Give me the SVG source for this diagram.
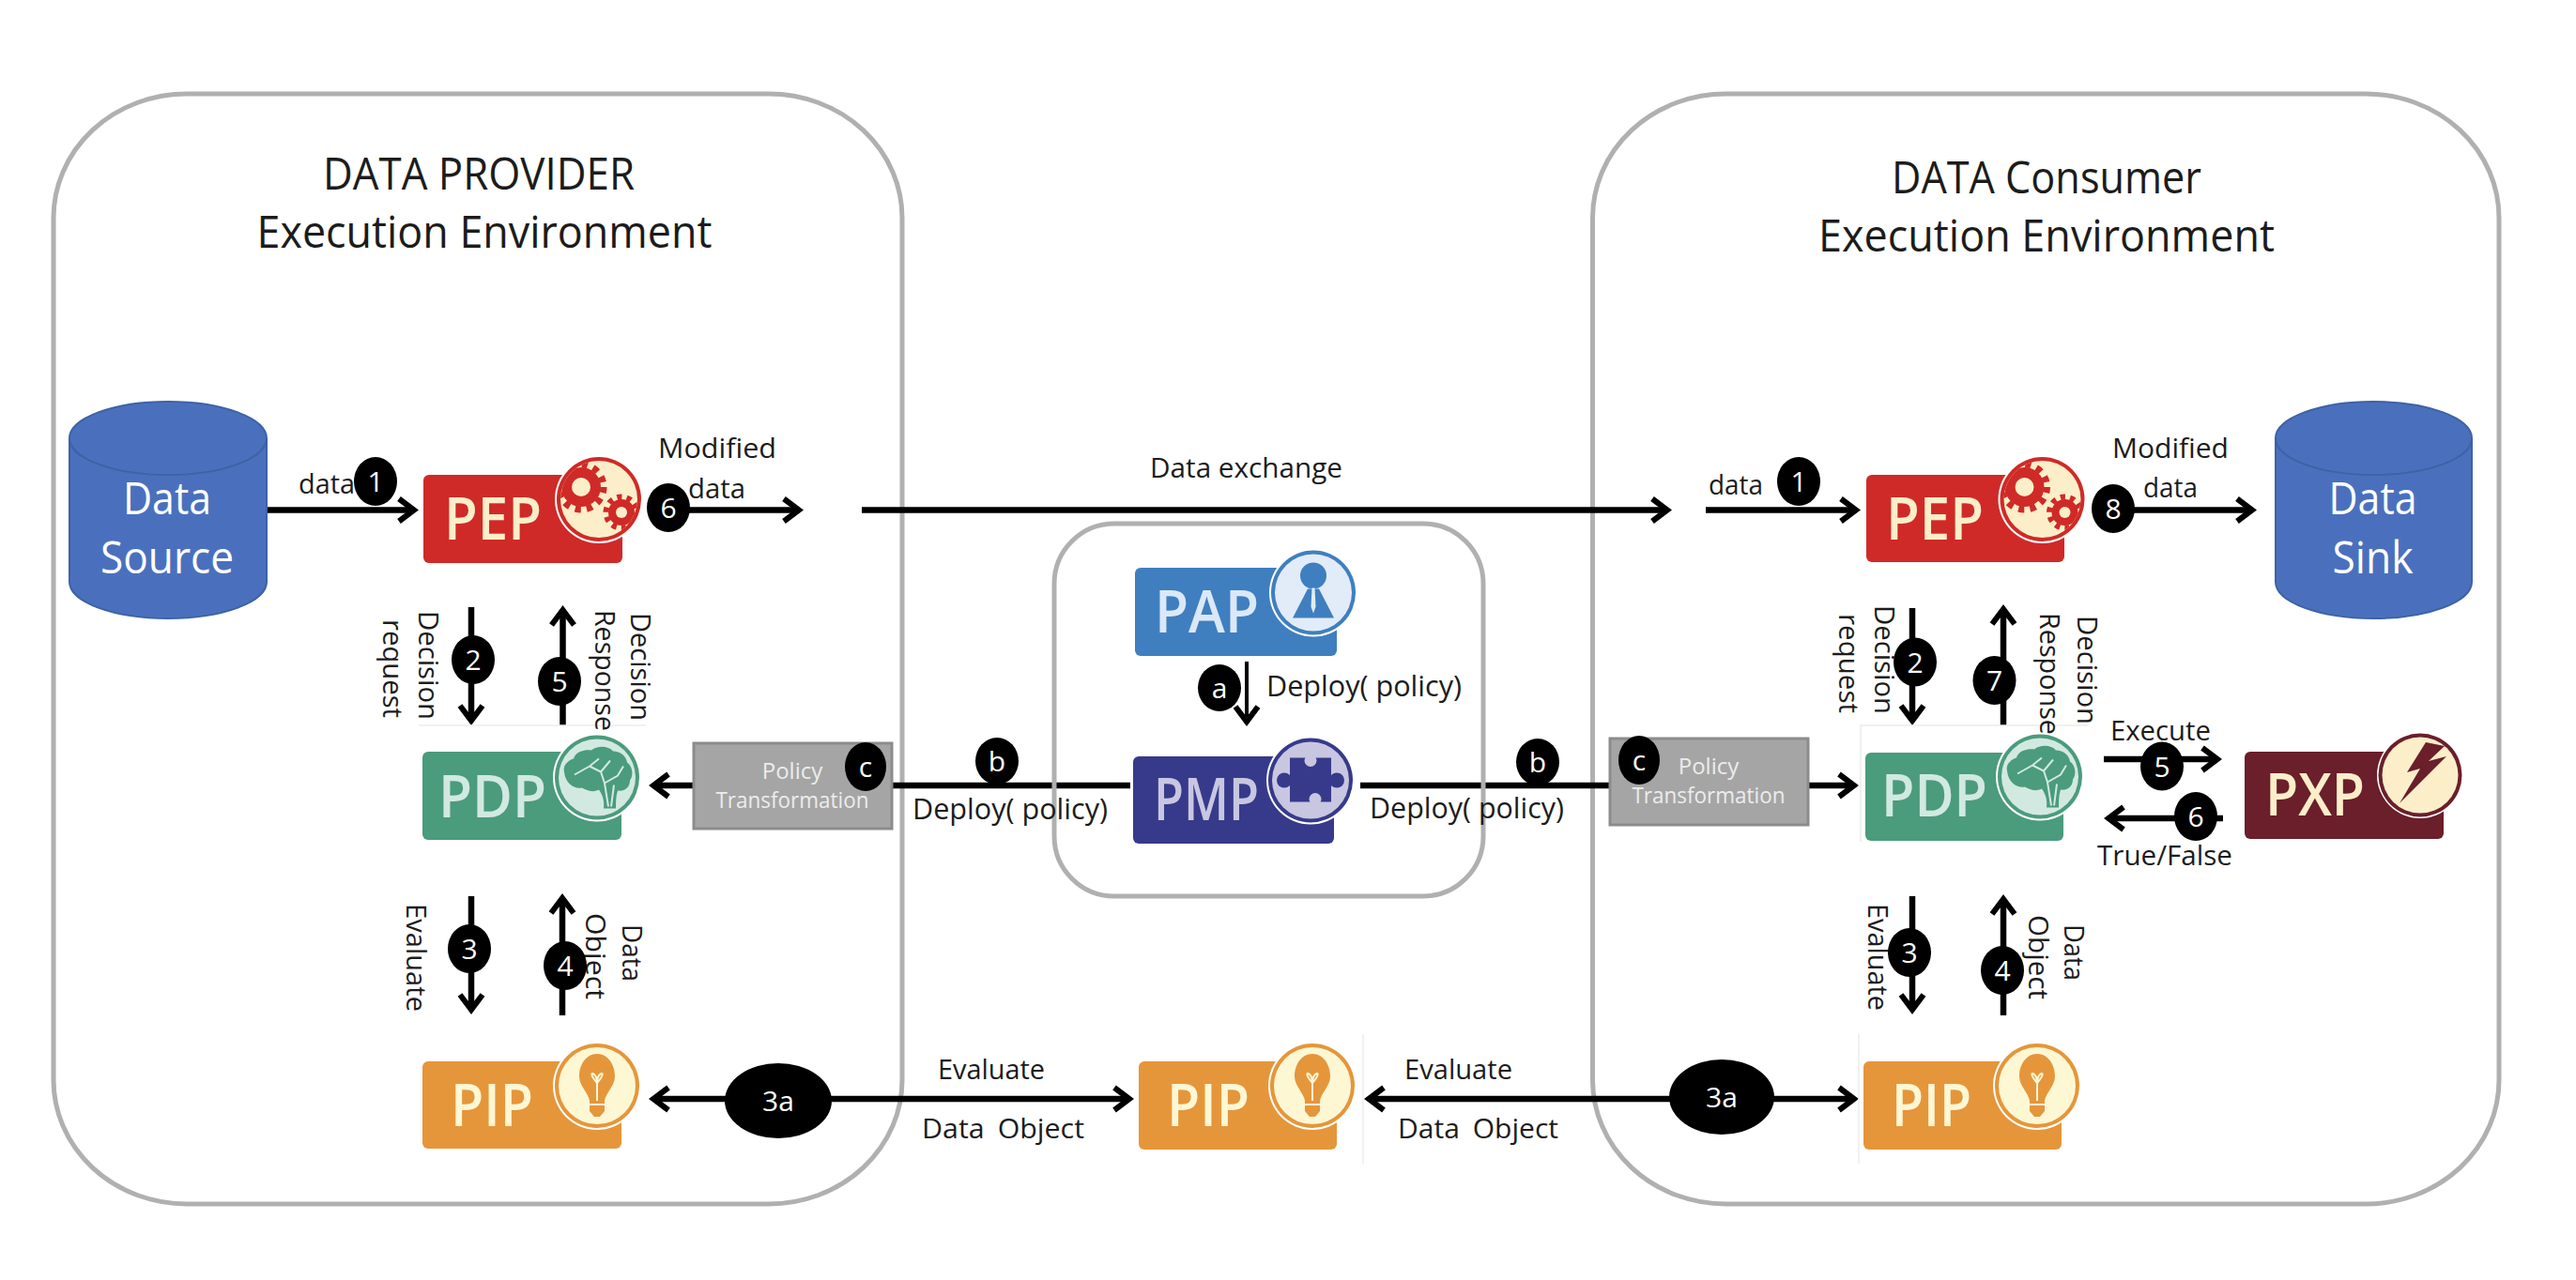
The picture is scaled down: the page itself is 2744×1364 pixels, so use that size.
<svg xmlns="http://www.w3.org/2000/svg" xmlns:xlink="http://www.w3.org/1999/xlink" width="2744" height="1364" viewBox="0 0 2744 1364">
<style>
text{font-family:"Open Sans","Liberation Sans",sans-serif;fill:#1c1c1c}
.lb{font-size:30px}
.dp{font-size:31px}
.tt{font-size:47px;text-anchor:middle}
.ds{font-size:47px;text-anchor:middle;fill:#fff}
.nm{font-size:64px;font-weight:600}
.pt{font-size:24px;text-anchor:middle;fill:#ececec}
.bt{font-size:30px;text-anchor:middle;fill:#fff}
.bd{fill:#000}
.panel{fill:none;stroke:#b0b0b0;stroke-width:5}
.ln{fill:none;stroke:#000;stroke-width:6.5;marker-end:url(#ah)}
.pl{fill:none;stroke:#000;stroke-width:6.5}
.cyl{fill:#4a70bd;stroke:#3e62a6;stroke-width:2}
.pol{fill:#a5a5a5;stroke:#8c8c8c;stroke-width:3}
.edge{fill:none;stroke:#ececec;stroke-width:1.5}
</style>
<defs>
<marker id="ah" markerUnits="userSpaceOnUse" markerWidth="50" markerHeight="50" refX="25" refY="25" orient="auto-start-reverse" viewBox="0 0 50 50"><path d="M9,13 L25,25 L9,37" fill="none" stroke="#000" stroke-width="6"/></marker>
<clipPath id="dc"><circle r="41"/></clipPath>
<g id="gears" clip-path="url(#dc)" fill="#cf2a27">
<circle cx="-19" cy="-13" r="21"/>
<circle cx="-19" cy="-13" r="24" fill="none" stroke="#cf2a27" stroke-width="7" stroke-dasharray="6.28 6.28"/>
<circle cx="-19" cy="-13" r="10" fill="#fbeec8"/>
<circle cx="24" cy="14" r="14"/>
<circle cx="24" cy="14" r="16.5" fill="none" stroke="#cf2a27" stroke-width="6" stroke-dasharray="5.18 5.18"/>
<circle cx="24" cy="14" r="6" fill="#fbeec8"/>
</g>
<g id="brain">
<path fill="#4b9b7d" d="M-35,-6 C-37,-14 -29,-19 -25,-20 C-23,-28 -12,-30 -6,-29 C0,-34 12,-34 17,-28 C25,-28 31,-23 32,-16 C38,-12 39,-2 35,3 C35,11 29,15 22,14 C20,20 20,26 20,33 L7,33 C8,25 6,19 2,13 C-6,17 -12,13 -16,11 C-24,13 -34,6 -35,-6Z"/>
<path fill="none" stroke="#d1e9e1" stroke-width="2" d="M-24,-3 L-8,-12 L2,-20 M-8,-12 L4,-6 L8,6 L12,31 M4,-6 L14,-18 M8,6 L22,-2 L28,-12 M15,31 L18,8"/>
</g>
<g id="bulb">
<path fill="#e5963a" d="M0,-34 C12,-34 19,-22 19,-10 C19,0 9,8 8,16 L8,27 L3,33 L-3,33 L-8,27 L-8,16 C-9,8 -19,0 -19,-10 C-19,-22 -12,-34 0,-34Z"/>
<path fill="none" stroke="#fdf7d4" stroke-width="2" d="M0,16 L0,-3 C-8,-12 -6,-15 -3,-12 C-1,-10 0,-6 0,-3 C0,-6 1,-10 3,-12 C6,-15 8,-12 0,-3 M-8,20 L8,20"/>
</g>
</defs>

<rect width="2744" height="1364" fill="#fff"/>

<g id="panels-outer">
<rect class="panel" x="57" y="100" width="904" height="1183" rx="142" ry="132"/>
<rect class="panel" x="1696.5" y="100" width="965.5" height="1183" rx="142" ry="132"/>
</g>

<g id="connectors">
<path class="ln" d="M284,543.5H441"/>
<path class="ln" d="M712,543.5H851"/>
<path class="ln" d="M918,543.5H1776"/>
<path class="ln" d="M1817,543.5H1977"/>
<path class="ln" d="M2251,543.5H2399"/>
<path class="ln" d="M502,647V768"/>
<path class="ln" d="M599.5,773V650"/>
<path class="ln" d="M502,955V1076"/>
<path class="ln" d="M599,1082V957"/>
<path class="ln" style="stroke-width:4" d="M1328,705V769"/>
<path class="ln" d="M739,837H696"/>
<path class="pl" d="M950,837H1204"/>
<path class="pl" d="M1449,837H1715"/>
<path class="ln" d="M1926,837H1975"/>
<path class="ln" d="M2037,648V768"/>
<path class="ln" d="M2134,773V649"/>
<path class="ln" d="M2037,955V1076"/>
<path class="ln" d="M2134,1082V958"/>
<path class="ln" d="M2241,809H2362"/>
<path class="ln" d="M2368,872H2246"/>
<path class="ln" style="marker-start:url(#ah)" d="M696,1171H1203"/>
<path class="ln" style="marker-start:url(#ah)" d="M1458,1171H1975"/>
</g>

<g id="panel-center"><rect class="panel" x="1123" y="558" width="457" height="397" rx="64" ry="64"/></g>

<g id="edges">
<path class="edge" d="M446,773H688"/>
<path class="edge" d="M2224,773H1982V897"/>
<path class="edge" d="M1452,1102V1240"/>
<path class="edge" d="M1980,1102V1240"/>
</g>

<g id="titles">
<text class="tt" x="510" y="202" textLength="332" lengthAdjust="spacingAndGlyphs">DATA PROVIDER</text>
<text class="tt" x="516" y="264" textLength="485" lengthAdjust="spacingAndGlyphs">Execution Environment</text>
<text class="tt" x="2180" y="206" textLength="330" lengthAdjust="spacingAndGlyphs">DATA Consumer</text>
<text class="tt" x="2180" y="268" textLength="486" lengthAdjust="spacingAndGlyphs">Execution Environment</text>
</g>

<g id="labels">
<text class="lb" x="318" y="526" textLength="60" lengthAdjust="spacingAndGlyphs">data</text>
<text class="lb" x="701" y="488" textLength="126" lengthAdjust="spacingAndGlyphs">Modified</text>
<text class="lb" x="733" y="531" textLength="61" lengthAdjust="spacingAndGlyphs">data</text>
<text class="lb" x="1225" y="509" textLength="205" lengthAdjust="spacingAndGlyphs">Data exchange</text>
<text class="lb" x="1820" y="527" textLength="58" lengthAdjust="spacingAndGlyphs">data</text>
<text class="lb" x="2250" y="488" textLength="124" lengthAdjust="spacingAndGlyphs">Modified</text>
<text class="lb" x="2283" y="530" textLength="58" lengthAdjust="spacingAndGlyphs">data</text>
<text class="lb" transform="translate(446,651) rotate(90)" textLength="116" lengthAdjust="spacingAndGlyphs">Decision</text>
<text class="lb" transform="translate(408,660) rotate(90)" textLength="105" lengthAdjust="spacingAndGlyphs">request</text>
<text class="lb" transform="translate(672,653) rotate(90)" textLength="115" lengthAdjust="spacingAndGlyphs">Decision</text>
<text class="lb" transform="translate(634,650) rotate(90)" textLength="129" lengthAdjust="spacingAndGlyphs">Response</text>
<text class="lb" transform="translate(433,963) rotate(90)" textLength="115" lengthAdjust="spacingAndGlyphs">Evaluate</text>
<text class="lb" transform="translate(624,973) rotate(90)" textLength="92" lengthAdjust="spacingAndGlyphs">Object</text>
<text class="lb" transform="translate(663,985) rotate(90)" textLength="61" lengthAdjust="spacingAndGlyphs">Data</text>
<text class="lb" transform="translate(1997,645) rotate(90)" textLength="116" lengthAdjust="spacingAndGlyphs">Decision</text>
<text class="lb" transform="translate(1959,654) rotate(90)" textLength="106" lengthAdjust="spacingAndGlyphs">request</text>
<text class="lb" transform="translate(2213,656) rotate(90)" textLength="116" lengthAdjust="spacingAndGlyphs">Decision</text>
<text class="lb" transform="translate(2173,653) rotate(90)" textLength="130" lengthAdjust="spacingAndGlyphs">Response</text>
<text class="lb" transform="translate(1990,963) rotate(90)" textLength="114" lengthAdjust="spacingAndGlyphs">Evaluate</text>
<text class="lb" transform="translate(2161,975) rotate(90)" textLength="90" lengthAdjust="spacingAndGlyphs">Object</text>
<text class="lb" transform="translate(2199,985) rotate(90)" textLength="60" lengthAdjust="spacingAndGlyphs">Data</text>
<text class="dp" x="1349" y="742" textLength="208" lengthAdjust="spacingAndGlyphs">Deploy( policy)</text>
<text class="dp" x="972" y="873" textLength="208" lengthAdjust="spacingAndGlyphs">Deploy( policy)</text>
<text class="dp" x="1459" y="872" textLength="207" lengthAdjust="spacingAndGlyphs">Deploy( policy)</text>
<text class="lb" x="2248" y="789" textLength="107" lengthAdjust="spacingAndGlyphs">Execute</text>
<text class="lb" x="2234" y="922" textLength="144" lengthAdjust="spacingAndGlyphs">True/False</text>
<text class="lb" x="999" y="1150" textLength="114" lengthAdjust="spacingAndGlyphs">Evaluate</text>
<text class="lb" x="982" y="1213" textLength="173" lengthAdjust="spacingAndGlyphs" word-spacing="6">Data Object</text>
<text class="lb" x="1496" y="1150" textLength="115" lengthAdjust="spacingAndGlyphs">Evaluate</text>
<text class="lb" x="1489" y="1213" textLength="171" lengthAdjust="spacingAndGlyphs" word-spacing="6">Data Object</text>
</g>

<g id="data-source">
<path class="cyl" d="M74,467V620A105,39 0 0 0 284,620V467A105,39 0 0 0 74,467Z"/>
<path class="cyl" style="fill:none" d="M74,467A105,39 0 0 0 284,467"/>
<text class="ds" x="178" y="548" textLength="94" lengthAdjust="spacingAndGlyphs">Data</text>
<text class="ds" x="178" y="611" textLength="142" lengthAdjust="spacingAndGlyphs">Source</text>
</g>
<g id="data-sink">
<path class="cyl" d="M2424,467V620A104.5,39 0 0 0 2633,620V467A104.5,39 0 0 0 2424,467Z"/>
<path class="cyl" style="fill:none" d="M2424,467A104.5,39 0 0 0 2633,467"/>
<text class="ds" x="2527.5" y="548" textLength="94" lengthAdjust="spacingAndGlyphs">Data</text>
<text class="ds" x="2527.5" y="611" textLength="86" lengthAdjust="spacingAndGlyphs">Sink</text>
</g>

<g id="pep-left">
<rect x="451" y="506" width="212" height="94" rx="6" fill="#cf2a27"/>
<text class="nm" x="473" y="575" textLength="104" lengthAdjust="spacingAndGlyphs" style="fill:#fbeec8">PEP</text>
<g transform="translate(638,532)"><circle r="47" fill="#fff"/><circle r="45" fill="#cf2a27"/><circle r="41" fill="#fbeec8"/><use xlink:href="#gears" href="#gears"/></g>
</g>
<g id="pep-right">
<rect x="1988" y="506" width="211" height="93" rx="6" fill="#cf2a27"/>
<text class="nm" x="2009" y="575" textLength="104" lengthAdjust="spacingAndGlyphs" style="fill:#fbeec8">PEP</text>
<g transform="translate(2175.5,532)"><circle r="47" fill="#fff"/><circle r="45" fill="#cf2a27"/><circle r="41" fill="#fbeec8"/><use xlink:href="#gears" href="#gears"/></g>
</g>
<g id="pdp-left">
<rect x="450" y="801" width="212" height="94" rx="6" fill="#4b9b7d"/>
<text class="nm" x="467" y="871" textLength="115" lengthAdjust="spacingAndGlyphs" style="fill:#d1e9e1">PDP</text>
<g transform="translate(636,828.5)"><circle r="47" fill="#fff"/><circle r="45" fill="#4b9b7d"/><circle r="41" fill="#d1e9e1"/><use xlink:href="#brain" href="#brain"/></g>
</g>
<g id="pdp-right">
<rect x="1987" y="802" width="211" height="94" rx="6" fill="#4b9b7d"/>
<text class="nm" x="2004" y="870" textLength="113" lengthAdjust="spacingAndGlyphs" style="fill:#d1e9e1">PDP</text>
<g transform="translate(2173,827.5)"><circle r="47" fill="#fff"/><circle r="45" fill="#4b9b7d"/><circle r="41" fill="#d1e9e1"/><use xlink:href="#brain" href="#brain"/></g>
</g>
<g id="pip-left">
<rect x="450" y="1131" width="212" height="93" rx="6" fill="#e5963a"/>
<text class="nm" x="480" y="1200" textLength="88" lengthAdjust="spacingAndGlyphs" style="fill:#fdf7d4">PIP</text>
<g transform="translate(636,1157)"><circle r="47" fill="#fff"/><circle r="45" fill="#e5963a"/><circle r="41" fill="#fdf7d4"/><use xlink:href="#bulb" href="#bulb"/></g>
</g>
<g id="pip-center">
<rect x="1213" y="1131" width="211" height="94" rx="6" fill="#e5963a"/>
<text class="nm" x="1243" y="1200" textLength="88" lengthAdjust="spacingAndGlyphs" style="fill:#fdf7d4">PIP</text>
<g transform="translate(1398,1157)"><circle r="47" fill="#fff"/><circle r="45" fill="#e5963a"/><circle r="41" fill="#fdf7d4"/><use xlink:href="#bulb" href="#bulb"/></g>
</g>
<g id="pip-right">
<rect x="1985" y="1131" width="211" height="94" rx="6" fill="#e5963a"/>
<text class="nm" x="2015" y="1200" textLength="85" lengthAdjust="spacingAndGlyphs" style="fill:#fdf7d4">PIP</text>
<g transform="translate(2170,1157)"><circle r="47" fill="#fff"/><circle r="45" fill="#e5963a"/><circle r="41" fill="#fdf7d4"/><use xlink:href="#bulb" href="#bulb"/></g>
</g>
<g id="pap">
<rect x="1209" y="605" width="215" height="94" rx="6" fill="#3f7fbf"/>
<text class="nm" x="1230" y="674" textLength="111" lengthAdjust="spacingAndGlyphs" style="fill:#dbe8f7">PAP</text>
<g transform="translate(1399,631.5)"><circle r="47" fill="#fff"/><circle r="45" fill="#3f7fbf"/><circle r="41" fill="#e1ecf8"/>
<circle cy="-18" r="14" fill="#3f7fbf"/><path d="M-6,-4H6L22,27H-22Z" fill="#3f7fbf"/><path d="M-1.5,-5H1.5L2.5,15L0,22L-2.5,15Z" fill="#e1ecf8"/></g>
</g>
<g id="pmp">
<rect x="1207" y="806" width="214" height="93" rx="6" fill="#373a8a"/>
<text class="nm" x="1229" y="874" textLength="112" lengthAdjust="spacingAndGlyphs" style="fill:#c9c6e2">PMP</text>
<g transform="translate(1396,831.5)"><circle r="47" fill="#fff"/><circle r="45" fill="#373a8a"/><circle r="41" fill="#c9c6e2"/>
<rect x="-22" y="-24" width="44" height="47" fill="#373a8a"/><circle cx="-28" r="8" fill="#373a8a"/><circle cx="28" r="8" fill="#373a8a"/><circle cy="-21" r="6.5" fill="#c9c6e2"/><circle cx="5" cy="20" r="6.5" fill="#c9c6e2"/></g>
</g>
<g id="pxp">
<rect x="2391" y="801" width="212" height="93" rx="6" fill="#6a1f2b"/>
<text class="nm" x="2413" y="869" textLength="106" lengthAdjust="spacingAndGlyphs" style="fill:#fbeec8">PXP</text>
<g transform="translate(2578,826)"><circle r="46" fill="#fff"/><circle r="44.5" fill="#6a1f2b"/><circle r="40.5" fill="#fbeec8"/>
<path d="M6,-35L-14,-3L0,-7L-22,30L28,-20L9,-15L26,-31Z" fill="#6a1f2b"/></g>
</g>

<g id="policy-left">
<rect class="pol" x="739" y="792" width="211" height="91"/>
<text class="pt" x="844" y="830">Policy</text>
<text class="pt" x="844" y="861" textLength="163" lengthAdjust="spacingAndGlyphs">Transformation</text>
</g>
<g id="policy-right">
<rect class="pol" x="1715" y="787" width="211" height="92"/>
<text class="pt" x="1820" y="825">Policy</text>
<text class="pt" x="1820" y="856" textLength="163" lengthAdjust="spacingAndGlyphs">Transformation</text>
</g>

<g id="badges">
<g><ellipse class="bd" cx="400" cy="513" rx="23" ry="26"/><text class="bt" x="400" y="524">1</text></g>
<g><ellipse class="bd" cx="712" cy="541" rx="23" ry="26"/><text class="bt" x="712" y="552">6</text></g>
<g><ellipse class="bd" cx="504" cy="703" rx="23" ry="26"/><text class="bt" x="504" y="714">2</text></g>
<g><ellipse class="bd" cx="596" cy="726" rx="23" ry="26"/><text class="bt" x="596" y="737">5</text></g>
<g><ellipse class="bd" cx="500" cy="1011" rx="23" ry="26"/><text class="bt" x="500" y="1022">3</text></g>
<g><ellipse class="bd" cx="602" cy="1029" rx="23" ry="26"/><text class="bt" x="602" y="1040">4</text></g>
<g><ellipse class="bd" cx="922" cy="817" rx="22" ry="26"/><text class="bt" x="922" y="828">c</text></g>
<g><ellipse class="bd" cx="1062" cy="811" rx="23" ry="25"/><text class="bt" x="1062" y="822">b</text></g>
<g><ellipse class="bd" cx="1299" cy="733" rx="23" ry="25"/><text class="bt" x="1299" y="744">a</text></g>
<g><ellipse class="bd" cx="1638" cy="812" rx="23" ry="25"/><text class="bt" x="1638" y="823">b</text></g>
<g><ellipse class="bd" cx="1746" cy="810" rx="22" ry="26"/><text class="bt" x="1746" y="821">c</text></g>
<g><ellipse class="bd" cx="1916" cy="513" rx="23" ry="26"/><text class="bt" x="1916" y="524">1</text></g>
<g><ellipse class="bd" cx="2251" cy="542" rx="23" ry="26"/><text class="bt" x="2251" y="553">8</text></g>
<g><ellipse class="bd" cx="2040" cy="705.5" rx="23" ry="26"/><text class="bt" x="2040" y="716.5">2</text></g>
<g><ellipse class="bd" cx="2124.5" cy="725" rx="23" ry="26"/><text class="bt" x="2124.5" y="736">7</text></g>
<g><ellipse class="bd" cx="2034" cy="1015" rx="23" ry="26"/><text class="bt" x="2034" y="1026">3</text></g>
<g><ellipse class="bd" cx="2133" cy="1034" rx="23" ry="26"/><text class="bt" x="2133" y="1045">4</text></g>
<g><ellipse class="bd" cx="2303" cy="816.5" rx="23" ry="26"/><text class="bt" x="2303" y="827.5">5</text></g>
<g><ellipse class="bd" cx="2339" cy="870" rx="23" ry="26"/><text class="bt" x="2339" y="881">6</text></g>
<g><ellipse class="bd" cx="829" cy="1173" rx="57" ry="40"/><text class="bt" x="829" y="1184">3a</text></g>
<g><ellipse class="bd" cx="1834" cy="1169" rx="56" ry="40"/><text class="bt" x="1834" y="1180">3a</text></g>
</g>
</svg>
